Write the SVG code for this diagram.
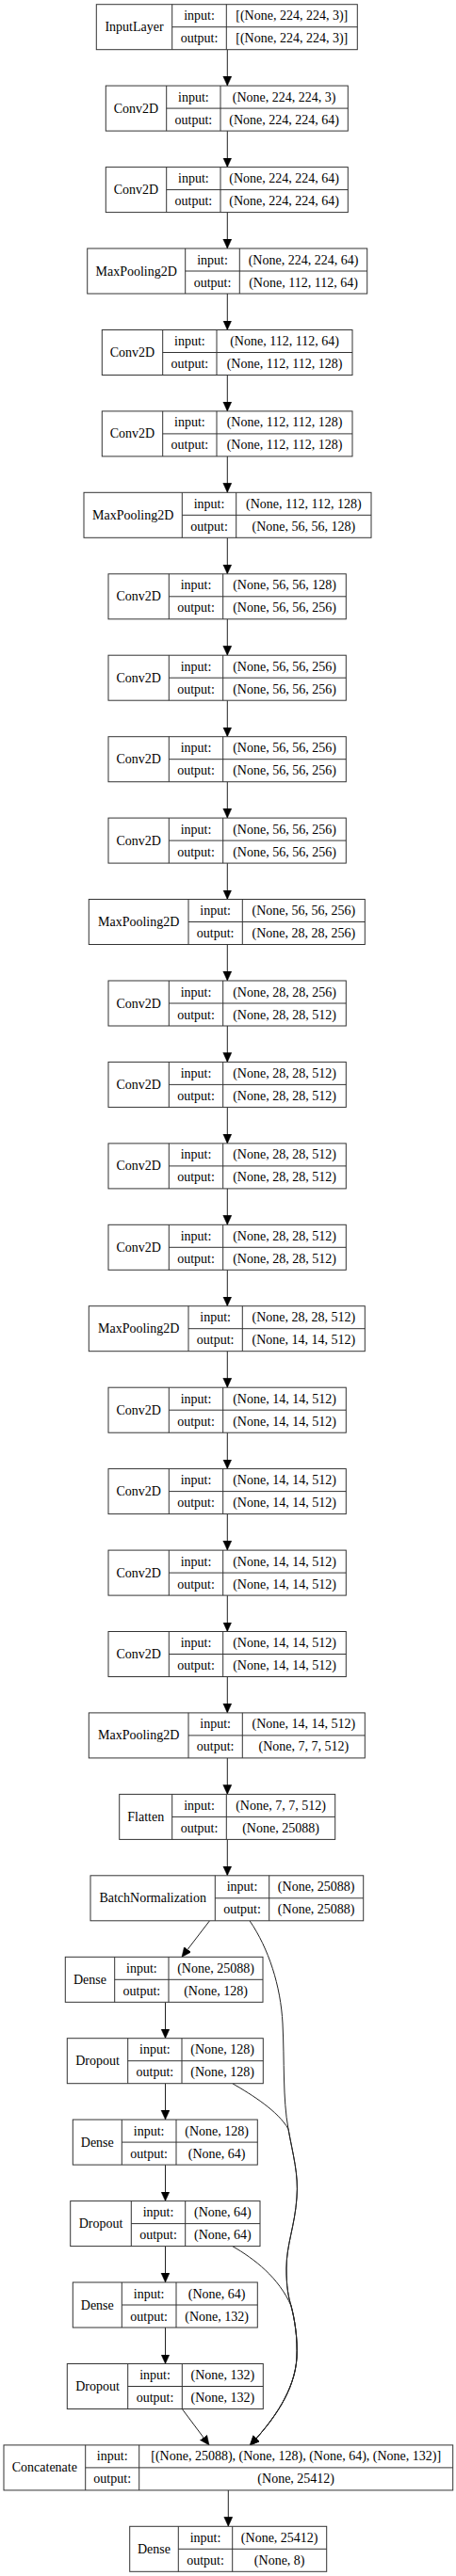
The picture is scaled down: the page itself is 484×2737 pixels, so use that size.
<svg xmlns="http://www.w3.org/2000/svg" width="484" height="2737" viewBox="0 0 484 2737">
<style>
.node rect{fill:#fff;stroke:#333;stroke-width:1}
.node path{fill:none;stroke:#333;stroke-width:1}
.node text{font-family:"Liberation Serif","Times New Roman",serif;font-size:14px;fill:#000;text-anchor:middle}
.edges path{fill:none;stroke:#222;stroke-width:1}
</style>
<defs>
<marker id="ah" markerUnits="userSpaceOnUse" markerWidth="11" markerHeight="10" refX="10" refY="4.5" orient="auto" viewBox="0 0 11 10">
<path d="M0,0 L10,4.5 L0,9 z" fill="#000" stroke="#000" stroke-width="0.5"/>
</marker>
</defs>
<rect width="484" height="2737" fill="#fff"/>
<g class="edges" marker-end="url(#ah)">
<path d="M241.3,52.7 V91.1"/>
<path d="M241.3,139.1 V177.6"/>
<path d="M241.3,225.6 V264"/>
<path d="M241.3,312 V350.5"/>
<path d="M241.3,398.5 V436.9"/>
<path d="M241.3,484.9 V523.3"/>
<path d="M241.3,571.3 V609.8"/>
<path d="M241.3,657.8 V696.2"/>
<path d="M241.3,744.2 V782.7"/>
<path d="M241.3,830.7 V869.1"/>
<path d="M241.3,917.1 V955.5"/>
<path d="M241.3,1003.5 V1042"/>
<path d="M241.3,1090 V1128.4"/>
<path d="M241.3,1176.4 V1214.9"/>
<path d="M241.3,1262.9 V1301.3"/>
<path d="M241.3,1349.3 V1387.7"/>
<path d="M241.3,1435.7 V1474.2"/>
<path d="M241.3,1522.2 V1560.6"/>
<path d="M241.3,1608.6 V1647.1"/>
<path d="M241.3,1695.1 V1733.5"/>
<path d="M241.3,1781.5 V1819.9"/>
<path d="M241.3,1867.9 V1906.4"/>
<path d="M241.3,1954.4 V1992.8"/>
<path d="M222.5,2040.8 L193,2079.3"/>
<path d="M175.5,2127.3 V2165.7"/>
<path d="M175.5,2213.7 V2252.1"/>
<path d="M175.5,2300.1 V2338.6"/>
<path d="M175.5,2386.6 V2425"/>
<path d="M175.5,2473 V2511.5"/>
<path d="M193.3,2559.5 L222,2597.9"/>
<path d="M242.3,2645.9 V2684.3"/>
<path d="M265,2040.8 C285,2070 298,2110 300,2150 C302,2190 300,2230 306,2262 C311,2290 317,2310 315,2335 C313,2365 304,2385 304,2410 C304,2430 306,2440 309,2450 C313,2465 316,2485 315,2505 C313,2540 290,2572 265.5,2597.9"/>
<path d="M246.7,2213.7 C268,2226 295,2243 306,2262 C311,2290 317,2310 315,2335 C313,2365 304,2385 304,2410 C304,2430 306,2440 309,2450 C313,2465 316,2485 315,2505 C313,2540 290,2572 265.5,2597.9"/>
<path d="M246.7,2386.6 C270,2400 296,2420 309,2450 C313,2465 316,2485 315,2505 C313,2540 290,2572 265.5,2597.9"/>
</g>
<g id="n0" class="node"><rect x="102.3" y="4.7" width="277" height="48"/><path d="M182.7,4.7 v48 M240.3,4.7 v48 M182.7,28.7 H379.3"/><text x="142.5" y="33.2">InputLayer</text><text x="211.5" y="21.2">input:</text><text x="211.5" y="45.2">output:</text><text x="309.8" y="21.2">[(None, 224, 224, 3)]</text><text x="309.8" y="45.2">[(None, 224, 224, 3)]</text></g>
<g id="n1" class="node"><rect x="112.3" y="91.1" width="257" height="48"/><path d="M176.7,91.1 v48 M234,91.1 v48 M176.7,115.1 H369.3"/><text x="144.5" y="119.6">Conv2D</text><text x="205.35" y="107.6">input:</text><text x="205.35" y="131.6">output:</text><text x="301.65" y="107.6">(None, 224, 224, 3)</text><text x="301.65" y="131.6">(None, 224, 224, 64)</text></g>
<g id="n2" class="node"><rect x="112.3" y="177.6" width="257" height="48"/><path d="M176.7,177.6 v48 M234,177.6 v48 M176.7,201.6 H369.3"/><text x="144.5" y="206.1">Conv2D</text><text x="205.35" y="194.1">input:</text><text x="205.35" y="218.1">output:</text><text x="301.65" y="194.1">(None, 224, 224, 64)</text><text x="301.65" y="218.1">(None, 224, 224, 64)</text></g>
<g id="n3" class="node"><rect x="92.7" y="264" width="297" height="48"/><path d="M196.7,264 v48 M254.3,264 v48 M196.7,288 H389.7"/><text x="144.7" y="292.5">MaxPooling2D</text><text x="225.5" y="280.5">input:</text><text x="225.5" y="304.5">output:</text><text x="322" y="280.5">(None, 224, 224, 64)</text><text x="322" y="304.5">(None, 112, 112, 64)</text></g>
<g id="n4" class="node"><rect x="108.3" y="350.5" width="265.7" height="48"/><path d="M172.7,350.5 v48 M230,350.5 v48 M172.7,374.5 H374"/><text x="140.5" y="379">Conv2D</text><text x="201.35" y="367">input:</text><text x="201.35" y="391">output:</text><text x="302" y="367">(None, 112, 112, 64)</text><text x="302" y="391">(None, 112, 112, 128)</text></g>
<g id="n5" class="node"><rect x="108.3" y="436.9" width="265.7" height="48"/><path d="M172.7,436.9 v48 M230,436.9 v48 M172.7,460.9 H374"/><text x="140.5" y="465.4">Conv2D</text><text x="201.35" y="453.4">input:</text><text x="201.35" y="477.4">output:</text><text x="302" y="453.4">(None, 112, 112, 128)</text><text x="302" y="477.4">(None, 112, 112, 128)</text></g>
<g id="n6" class="node"><rect x="89" y="523.3" width="305" height="48"/><path d="M193.3,523.3 v48 M250.7,523.3 v48 M193.3,547.3 H394"/><text x="141.15" y="551.8">MaxPooling2D</text><text x="222" y="539.8">input:</text><text x="222" y="563.8">output:</text><text x="322.35" y="539.8">(None, 112, 112, 128)</text><text x="322.35" y="563.8">(None, 56, 56, 128)</text></g>
<g id="n7" class="node"><rect x="115" y="609.8" width="252.3" height="48"/><path d="M179.3,609.8 v48 M236.7,609.8 v48 M179.3,633.8 H367.3"/><text x="147.15" y="638.3">Conv2D</text><text x="208" y="626.3">input:</text><text x="208" y="650.3">output:</text><text x="302" y="626.3">(None, 56, 56, 128)</text><text x="302" y="650.3">(None, 56, 56, 256)</text></g>
<g id="n8" class="node"><rect x="115" y="696.2" width="252.3" height="48"/><path d="M179.3,696.2 v48 M236.7,696.2 v48 M179.3,720.2 H367.3"/><text x="147.15" y="724.7">Conv2D</text><text x="208" y="712.7">input:</text><text x="208" y="736.7">output:</text><text x="302" y="712.7">(None, 56, 56, 256)</text><text x="302" y="736.7">(None, 56, 56, 256)</text></g>
<g id="n9" class="node"><rect x="115" y="782.7" width="252.3" height="48"/><path d="M179.3,782.7 v48 M236.7,782.7 v48 M179.3,806.7 H367.3"/><text x="147.15" y="811.2">Conv2D</text><text x="208" y="799.2">input:</text><text x="208" y="823.2">output:</text><text x="302" y="799.2">(None, 56, 56, 256)</text><text x="302" y="823.2">(None, 56, 56, 256)</text></g>
<g id="n10" class="node"><rect x="115" y="869.1" width="252.3" height="48"/><path d="M179.3,869.1 v48 M236.7,869.1 v48 M179.3,893.1 H367.3"/><text x="147.15" y="897.6">Conv2D</text><text x="208" y="885.6">input:</text><text x="208" y="909.6">output:</text><text x="302" y="885.6">(None, 56, 56, 256)</text><text x="302" y="909.6">(None, 56, 56, 256)</text></g>
<g id="n11" class="node"><rect x="94.3" y="955.5" width="293" height="48"/><path d="M200,955.5 v48 M257.3,955.5 v48 M200,979.5 H387.3"/><text x="147.15" y="984">MaxPooling2D</text><text x="228.65" y="972">input:</text><text x="228.65" y="996">output:</text><text x="322.3" y="972">(None, 56, 56, 256)</text><text x="322.3" y="996">(None, 28, 28, 256)</text></g>
<g id="n12" class="node"><rect x="115" y="1042" width="252.3" height="48"/><path d="M179.3,1042 v48 M236.7,1042 v48 M179.3,1066 H367.3"/><text x="147.15" y="1070.5">Conv2D</text><text x="208" y="1058.5">input:</text><text x="208" y="1082.5">output:</text><text x="302" y="1058.5">(None, 28, 28, 256)</text><text x="302" y="1082.5">(None, 28, 28, 512)</text></g>
<g id="n13" class="node"><rect x="115" y="1128.4" width="252.3" height="48"/><path d="M179.3,1128.4 v48 M236.7,1128.4 v48 M179.3,1152.4 H367.3"/><text x="147.15" y="1156.9">Conv2D</text><text x="208" y="1144.9">input:</text><text x="208" y="1168.9">output:</text><text x="302" y="1144.9">(None, 28, 28, 512)</text><text x="302" y="1168.9">(None, 28, 28, 512)</text></g>
<g id="n14" class="node"><rect x="115" y="1214.9" width="252.3" height="48"/><path d="M179.3,1214.9 v48 M236.7,1214.9 v48 M179.3,1238.9 H367.3"/><text x="147.15" y="1243.4">Conv2D</text><text x="208" y="1231.4">input:</text><text x="208" y="1255.4">output:</text><text x="302" y="1231.4">(None, 28, 28, 512)</text><text x="302" y="1255.4">(None, 28, 28, 512)</text></g>
<g id="n15" class="node"><rect x="115" y="1301.3" width="252.3" height="48"/><path d="M179.3,1301.3 v48 M236.7,1301.3 v48 M179.3,1325.3 H367.3"/><text x="147.15" y="1329.8">Conv2D</text><text x="208" y="1317.8">input:</text><text x="208" y="1341.8">output:</text><text x="302" y="1317.8">(None, 28, 28, 512)</text><text x="302" y="1341.8">(None, 28, 28, 512)</text></g>
<g id="n16" class="node"><rect x="94.3" y="1387.7" width="293" height="48"/><path d="M200,1387.7 v48 M257.3,1387.7 v48 M200,1411.7 H387.3"/><text x="147.15" y="1416.2">MaxPooling2D</text><text x="228.65" y="1404.2">input:</text><text x="228.65" y="1428.2">output:</text><text x="322.3" y="1404.2">(None, 28, 28, 512)</text><text x="322.3" y="1428.2">(None, 14, 14, 512)</text></g>
<g id="n17" class="node"><rect x="115" y="1474.2" width="252.3" height="48"/><path d="M179.3,1474.2 v48 M236.7,1474.2 v48 M179.3,1498.2 H367.3"/><text x="147.15" y="1502.7">Conv2D</text><text x="208" y="1490.7">input:</text><text x="208" y="1514.7">output:</text><text x="302" y="1490.7">(None, 14, 14, 512)</text><text x="302" y="1514.7">(None, 14, 14, 512)</text></g>
<g id="n18" class="node"><rect x="115" y="1560.6" width="252.3" height="48"/><path d="M179.3,1560.6 v48 M236.7,1560.6 v48 M179.3,1584.6 H367.3"/><text x="147.15" y="1589.1">Conv2D</text><text x="208" y="1577.1">input:</text><text x="208" y="1601.1">output:</text><text x="302" y="1577.1">(None, 14, 14, 512)</text><text x="302" y="1601.1">(None, 14, 14, 512)</text></g>
<g id="n19" class="node"><rect x="115" y="1647.1" width="252.3" height="48"/><path d="M179.3,1647.1 v48 M236.7,1647.1 v48 M179.3,1671.1 H367.3"/><text x="147.15" y="1675.6">Conv2D</text><text x="208" y="1663.6">input:</text><text x="208" y="1687.6">output:</text><text x="302" y="1663.6">(None, 14, 14, 512)</text><text x="302" y="1687.6">(None, 14, 14, 512)</text></g>
<g id="n20" class="node"><rect x="115" y="1733.5" width="252.3" height="48"/><path d="M179.3,1733.5 v48 M236.7,1733.5 v48 M179.3,1757.5 H367.3"/><text x="147.15" y="1762">Conv2D</text><text x="208" y="1750">input:</text><text x="208" y="1774">output:</text><text x="302" y="1750">(None, 14, 14, 512)</text><text x="302" y="1774">(None, 14, 14, 512)</text></g>
<g id="n21" class="node"><rect x="94.3" y="1819.9" width="293" height="48"/><path d="M200,1819.9 v48 M257.3,1819.9 v48 M200,1843.9 H387.3"/><text x="147.15" y="1848.4">MaxPooling2D</text><text x="228.65" y="1836.4">input:</text><text x="228.65" y="1860.4">output:</text><text x="322.3" y="1836.4">(None, 14, 14, 512)</text><text x="322.3" y="1860.4">(None, 7, 7, 512)</text></g>
<g id="n22" class="node"><rect x="126.7" y="1906.4" width="229" height="48"/><path d="M182.7,1906.4 v48 M240.3,1906.4 v48 M182.7,1930.4 H355.7"/><text x="154.7" y="1934.9">Flatten</text><text x="211.5" y="1922.9">input:</text><text x="211.5" y="1946.9">output:</text><text x="298" y="1922.9">(None, 7, 7, 512)</text><text x="298" y="1946.9">(None, 25088)</text></g>
<g id="n23" class="node"><rect x="96" y="1992.8" width="289.7" height="48"/><path d="M228.3,1992.8 v48 M285.7,1992.8 v48 M228.3,2016.8 H385.7"/><text x="162.15" y="2021.3">BatchNormalization</text><text x="257" y="2009.3">input:</text><text x="257" y="2033.3">output:</text><text x="335.7" y="2009.3">(None, 25088)</text><text x="335.7" y="2033.3">(None, 25088)</text></g>
<g id="n24" class="node"><rect x="69.3" y="2079.3" width="209.7" height="48"/><path d="M121.7,2079.3 v48 M179,2079.3 v48 M121.7,2103.3 H279"/><text x="95.5" y="2107.8">Dense</text><text x="150.35" y="2095.8">input:</text><text x="150.35" y="2119.8">output:</text><text x="229" y="2095.8">(None, 25088)</text><text x="229" y="2119.8">(None, 128)</text></g>
<g id="n25" class="node"><rect x="71.3" y="2165.7" width="208" height="48"/><path d="M135.7,2165.7 v48 M193,2165.7 v48 M135.7,2189.7 H279.3"/><text x="103.5" y="2194.2">Dropout</text><text x="164.35" y="2182.2">input:</text><text x="164.35" y="2206.2">output:</text><text x="236.15" y="2182.2">(None, 128)</text><text x="236.15" y="2206.2">(None, 128)</text></g>
<g id="n26" class="node"><rect x="77.3" y="2252.1" width="196" height="48"/><path d="M129.3,2252.1 v48 M187,2252.1 v48 M129.3,2276.1 H273.3"/><text x="103.3" y="2280.6">Dense</text><text x="158.15" y="2268.6">input:</text><text x="158.15" y="2292.6">output:</text><text x="230.15" y="2268.6">(None, 128)</text><text x="230.15" y="2292.6">(None, 64)</text></g>
<g id="n27" class="node"><rect x="74.7" y="2338.6" width="201.3" height="48"/><path d="M139.3,2338.6 v48 M196.7,2338.6 v48 M139.3,2362.6 H276"/><text x="107" y="2367.1">Dropout</text><text x="168" y="2355.1">input:</text><text x="168" y="2379.1">output:</text><text x="236.35" y="2355.1">(None, 64)</text><text x="236.35" y="2379.1">(None, 64)</text></g>
<g id="n28" class="node"><rect x="77.3" y="2425" width="196" height="48"/><path d="M129.3,2425 v48 M187,2425 v48 M129.3,2449 H273.3"/><text x="103.3" y="2453.5">Dense</text><text x="158.15" y="2441.5">input:</text><text x="158.15" y="2465.5">output:</text><text x="230.15" y="2441.5">(None, 64)</text><text x="230.15" y="2465.5">(None, 132)</text></g>
<g id="n29" class="node"><rect x="71.3" y="2511.5" width="208" height="48"/><path d="M135.7,2511.5 v48 M193.3,2511.5 v48 M135.7,2535.5 H279.3"/><text x="103.5" y="2540">Dropout</text><text x="164.5" y="2528">input:</text><text x="164.5" y="2552">output:</text><text x="236.3" y="2528">(None, 132)</text><text x="236.3" y="2552">(None, 132)</text></g>
<g id="n30" class="node"><rect x="4" y="2597.9" width="476.7" height="48"/><path d="M90.7,2597.9 v48 M147.7,2597.9 v48 M90.7,2621.9 H480.7"/><text x="47.35" y="2626.4">Concatenate</text><text x="119.2" y="2614.4">input:</text><text x="119.2" y="2638.4">output:</text><text x="314.2" y="2614.4">[(None, 25088), (None, 128), (None, 64), (None, 132)]</text><text x="314.2" y="2638.4">(None, 25412)</text></g>
<g id="n31" class="node"><rect x="137.7" y="2684.3" width="209" height="48"/><path d="M189.3,2684.3 v48 M246.7,2684.3 v48 M189.3,2708.3 H346.7"/><text x="163.5" y="2712.8">Dense</text><text x="218" y="2700.8">input:</text><text x="218" y="2724.8">output:</text><text x="296.7" y="2700.8">(None, 25412)</text><text x="296.7" y="2724.8">(None, 8)</text></g>
</svg>
